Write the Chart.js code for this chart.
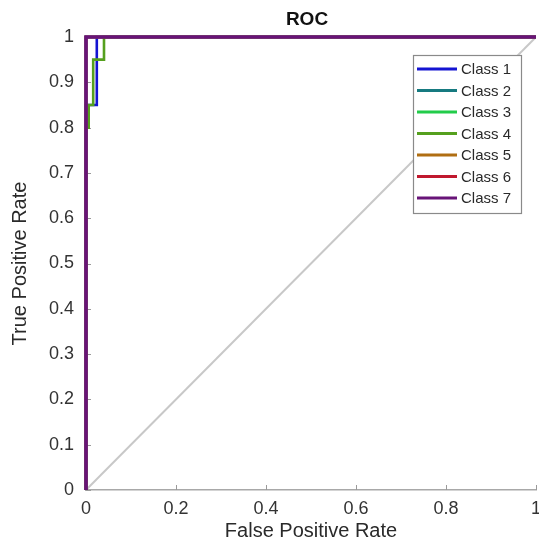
<!DOCTYPE html>
<html>
<head>
<meta charset="utf-8">
<script src="https://cdn.jsdelivr.net/npm/chart.js@4/dist/chart.umd.min.js"></script>
<style>
html,body{margin:0;padding:0;background:#fff;}
#wrap{width:539px;height:547px;}
</style>
</head>
<body>
<div id="wrap"><canvas id="c" width="539" height="547"></canvas></div>
<script>
// ---- data ----
const chartTitle = 'ROC';
const classNames = ['Class 1','Class 2','Class 3','Class 4','Class 5','Class 6','Class 7'];
const classColors = ['#1414d2','#167a80','#22cc4a','#55a01e','#b06e12','#c0182e','#681478'];
const fpr1 = [0, 0, 0.024, 0.024, 1];
const tpr1 = [0, 0.85, 0.85, 1, 1];
const fpr2 = [0, 0, 1];
const tpr2 = [0, 1, 1];
const fpr3 = [0, 0, 1];
const tpr3 = [0, 1, 1];
const fpr4 = [0, 0, 0.006, 0.006, 0.016, 0.016, 0.04, 0.04, 1];
const tpr4 = [0, 0.8, 0.8, 0.85, 0.85, 0.95, 0.95, 1, 1];
const fpr5 = [0, 0, 1];
const tpr5 = [0, 1, 1];
const fpr6 = [0, 0, 1];
const tpr6 = [0, 1, 1];
const fpr7 = [0, 0, 1];
const tpr7 = [0, 1, 1];
const diagX = [0, 1];
const diagY = [0, 1];
const xTicks = [0, 0.2, 0.4, 0.6, 0.8, 1];
const yTicks = [0, 0.1, 0.2, 0.3, 0.4, 0.5, 0.6, 0.7, 0.8, 0.9, 1];

const fprs = [fpr1,fpr2,fpr3,fpr4,fpr5,fpr6,fpr7];
const tprs = [tpr1,tpr2,tpr3,tpr4,tpr5,tpr6,tpr7];
const pts = (xs, ys) => xs.map((x, i) => ({x: x, y: ys[i]}));

const datasets = classNames.map((name, i) => ({
  label: name,
  data: pts(fprs[i], tprs[i]),
  showLine: true,
  borderColor: classColors[i],
  backgroundColor: classColors[i],
  borderWidth: i === 6 ? 3.6 : 2.6,
  pointRadius: 0,
  fill: false,
  tension: 0,
  clip: false,
  order: 7 - i
}));
datasets.push({
  label: 'diag',
  data: pts(diagX, diagY),
  showLine: true,
  borderColor: '#c8c8c8',
  borderWidth: 2,
  pointRadius: 0,
  order: 10
});

const FONT = "'Liberation Sans', Arial, sans-serif";

const extras = {
  id: 'extras',
  beforeDatasetsDraw(chart) {
    const ctx = chart.ctx, xs = chart.scales.x, ys = chart.scales.y;
    const a = chart.chartArea;
    ctx.save();
    ctx.strokeStyle = '#9a9a9a';
    ctx.lineWidth = 1;
    xTicks.forEach(v => {
      const px = Math.round(xs.getPixelForValue(v)) + 0.5;
      ctx.beginPath(); ctx.moveTo(px, a.bottom); ctx.lineTo(px, a.bottom - 5); ctx.stroke();
    });
    yTicks.forEach(v => {
      const py = Math.round(ys.getPixelForValue(v)) + 0.5;
      ctx.beginPath(); ctx.moveTo(a.left, py); ctx.lineTo(a.left + 5, py); ctx.stroke();
    });
    // title centred over the plot area
    ctx.fillStyle = '#111';
    ctx.font = 'bold 19px ' + FONT;
    ctx.textAlign = 'center';
    ctx.textBaseline = 'middle';
    ctx.fillText(chartTitle, (a.left + a.right) / 2 - 4, 20);
    ctx.restore();
  },
  afterDraw(chart) {
    const ctx = chart.ctx;
    const L = 413, T = 55, W = 108, H = 158;
    ctx.save();
    ctx.fillStyle = '#ffffff';
    ctx.fillRect(L, T, W, H);
    ctx.strokeStyle = '#8a8a8a';
    ctx.lineWidth = 1.2;
    ctx.strokeRect(L + 0.5, T + 0.5, W, H);
    ctx.font = '15px ' + FONT;
    ctx.textBaseline = 'middle';
    ctx.textAlign = 'left';
    classNames.forEach((name, i) => {
      const y = 69 + i * 21.5;
      ctx.strokeStyle = classColors[i];
      ctx.lineWidth = 3;
      ctx.beginPath(); ctx.moveTo(417, y); ctx.lineTo(457, y); ctx.stroke();
      ctx.fillStyle = '#2a2a2a';
      ctx.fillText(name, 461, y + 1);
    });
    ctx.restore();
  }
};

new Chart(document.getElementById('c'), {
  type: 'scatter',
  data: { datasets: datasets },
  options: {
    responsive: false,
    animation: false,
    layout: { padding: { left: 0, right: 3, top: 37, bottom: 0 } },
    plugins: {
      legend: { display: false },
      tooltip: { enabled: false },
      title: { display: false }
    },
    scales: {
      x: {
        type: 'linear',
        min: 0, max: 1,
        afterFit(s) { s.height = 57; s.paddingLeft = 0; s.paddingRight = 0; },
        afterBuildTicks(s) { s.ticks = xTicks.map(v => ({value: v})); },
        grid: { display: false, drawTicks: false },
        border: { display: true, color: '#a8a8a8', width: 1.5 },
        ticks: {
          padding: 8,
          color: '#333',
          font: { family: FONT, size: 18 },
          callback: v => String(v),
          maxRotation: 0
        },
        title: {
          display: true,
          text: 'False Positive Rate',
          color: '#2a2a2a',
          font: { family: FONT, size: 20 },
          padding: { top: 0, bottom: 4 }
        }
      },
      y: {
        type: 'linear',
        min: 0, max: 1,
        afterFit(s) { s.width = 86; s.paddingTop = 0; s.paddingBottom = 0; },
        afterBuildTicks(s) { s.ticks = yTicks.map(v => ({value: v})); },
        grid: { display: false, drawTicks: false },
        border: { display: true, color: '#a8a8a8', width: 1.5 },
        ticks: {
          padding: 12,
          color: '#333',
          font: { family: FONT, size: 18 },
          callback: v => String(v)
        },
        title: {
          display: true,
          text: 'True Positive Rate',
          color: '#2a2a2a',
          font: { family: FONT, size: 20 },
          padding: { top: 8, bottom: 0 }
        }
      }
    }
  },
  plugins: [extras]
});
</script>
</body>
</html>
